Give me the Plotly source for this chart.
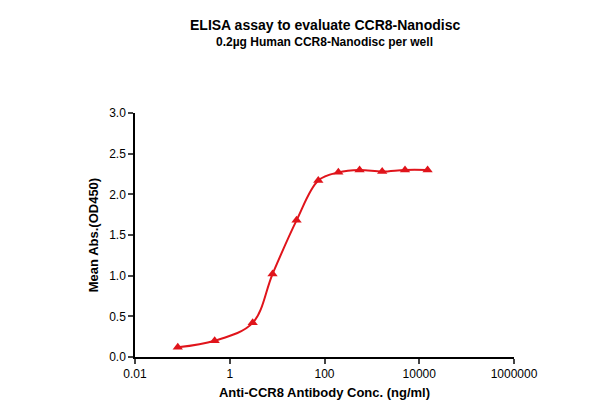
import plotly.graph_objects as go

conc = [0.08, 0.48, 3.05, 8.0, 25.7, 74, 196, 550, 1650, 5000, 15000]
od = [0.12, 0.20, 0.42, 1.02, 1.68, 2.17, 2.27, 2.30, 2.28, 2.30, 2.30]

fig = go.Figure()
fig.add_trace(go.Scatter(x=conc, y=od, mode="lines+markers", line=dict(color="#e0141b", width=2, shape="spline", smoothing=1.0),
                         marker=dict(symbol="triangle-up", size=9, color="#e0141b")))
fig.update_layout(
    width=600, height=400, margin=dict(l=127, r=94, t=105, b=51, autoexpand=False),
    plot_bgcolor="white", paper_bgcolor="white", showlegend=False,
    font=dict(family="Liberation Sans, Arial", color="black"),
    annotations=[
        dict(text="<b>ELISA assay to evaluate CCR8-Nanodisc</b>", xref="paper", yref="paper", x=0.5, y=1.0,
             yshift=98, xanchor="center", yanchor="top", showarrow=False, font=dict(size=14)),
        dict(text="<b>0.2µg Human CCR8-Nanodisc per well</b>", xref="paper", yref="paper", x=0.5, y=1.0,
             yshift=80, xanchor="center", yanchor="top", showarrow=False, font=dict(size=12)),
    ],
)
fig.update_xaxes(type="log", range=[-2, 6], tickvals=[0.01, 1, 100, 10000, 1000000], ticktext=["0.01", "1", "100", "10000", "1000000"],
                 showgrid=False, showline=True, linecolor="black", linewidth=1.5, ticks="outside", tickwidth=1.5, automargin=False,
                 tickfont=dict(size=12),
                 title=dict(text="<b>Anti-CCR8 Antibody Conc. (ng/ml)</b>", font=dict(size=13), standoff=8))
fig.update_yaxes(range=[0, 3], dtick=0.5, tickformat=".1f", showgrid=False, showline=True, linecolor="black", linewidth=1.5,
                 ticks="outside", tickwidth=1.5, zeroline=False, tickfont=dict(size=12), automargin=False,
                 title=dict(text="<b>Mean Abs.(OD450)</b>", font=dict(size=13), standoff=8))
fig.write_html("out.html")
